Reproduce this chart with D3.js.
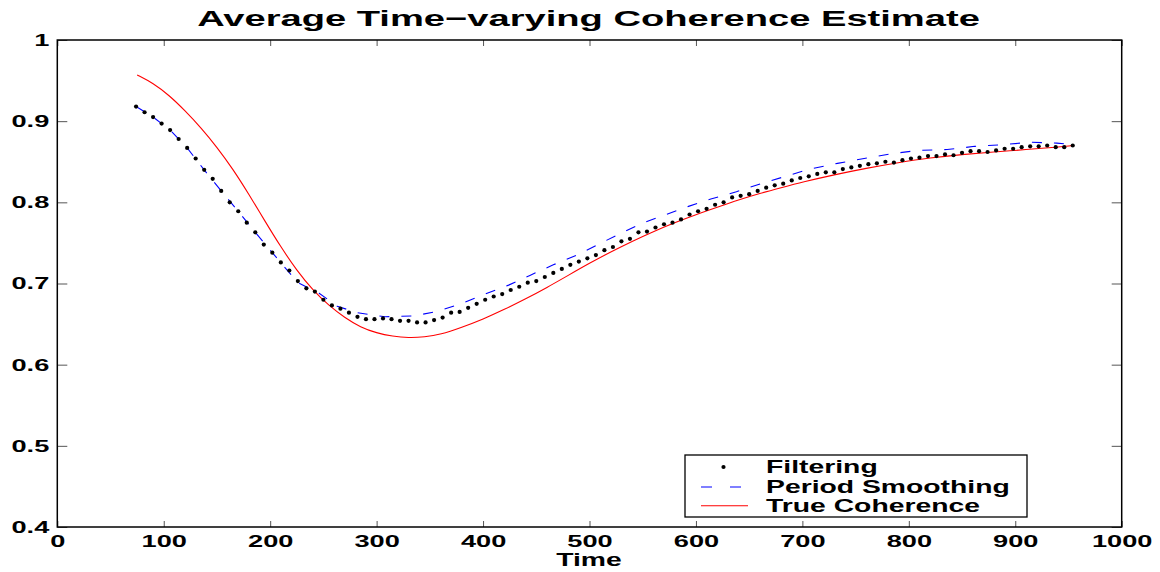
<!DOCTYPE html>
<html lang="en">
<head>
<meta charset="UTF-8">
<title>Average Time-varying Coherence Estimate</title>
<script src="https://d3js.org/d3.v7.min.js"></script>
<style>
    body { margin: 0; background: #fff; }
    text { font-family: "Liberation Sans", Arial, Helvetica, sans-serif; font-weight: bold; fill: #000; }
    .tick line { stroke: #555; stroke-width: 1px; }
    .domain { display: none; }
</style>
</head>
<body>
<svg width="1160" height="572"></svg>
<script>
// Filtering estimate, one value every 8 time units from 74 to 954
const filterTimes = d3.range(74, 955, 8);
const filterValues = [
    0.918, 0.911, 0.905, 0.897, 0.889, 0.878, 0.867, 0.854, 0.840, 0.829,
    0.814, 0.800, 0.789, 0.775, 0.763, 0.748, 0.738, 0.726, 0.716, 0.703,
    0.694, 0.690, 0.680, 0.673, 0.669, 0.664, 0.659, 0.656, 0.656, 0.657,
    0.656, 0.654, 0.654, 0.652, 0.652, 0.655, 0.658, 0.664, 0.665, 0.670,
    0.675, 0.680, 0.684,
    0.687, 0.692, 0.696, 0.701, 0.703, 0.708, 0.713, 0.718, 0.723, 0.727,
    0.731, 0.735, 0.741, 0.745, 0.752, 0.755, 0.763, 0.764, 0.769, 0.773,
    0.775, 0.779, 0.785, 0.789, 0.792, 0.797, 0.800, 0.806, 0.808, 0.810,
    0.814, 0.818, 0.821, 0.823, 0.827,
    0.830, 0.832, 0.835, 0.837, 0.837, 0.841, 0.843, 0.845, 0.847, 0.848,
    0.850, 0.849, 0.852, 0.854, 0.855, 0.857, 0.857, 0.859, 0.858, 0.861,
    0.863, 0.863, 0.862, 0.864, 0.866, 0.866, 0.868, 0.869, 0.869, 0.870,
    0.868, 0.868, 0.870
];

// Period smoothing estimate
const periodTimes = [74, 90, 106, 122, 138, 154, 170, 186, 202, 213, 226, 246, 263, 282, 308,
    335, 358, 381, 402, 424, 444, 466, 488, 508, 528, 549, 572, 593, 614, 638, 661, 684, 707,
    733, 758, 784, 809, 836, 862, 888, 914, 939, 954];
const periodValues = [0.918, 0.905, 0.889, 0.867, 0.840, 0.814, 0.789, 0.763, 0.738, 0.721,
    0.701, 0.688, 0.672, 0.664, 0.659, 0.660, 0.666, 0.676, 0.687, 0.698, 0.710, 0.723, 0.735,
    0.748, 0.761, 0.774, 0.785, 0.795, 0.804, 0.813, 0.823, 0.832, 0.841, 0.848, 0.854, 0.860,
    0.864, 0.865, 0.869, 0.871, 0.874, 0.873, 0.871];

// True coherence
const trueTimes = [75, 90, 105, 120, 135, 150, 165, 180, 195, 210, 225, 240, 255, 270, 285, 300,
    315, 330, 345, 360, 380, 400, 420, 440, 460, 480, 500, 520, 540, 560, 580, 600, 620, 640,
    660, 680, 700, 730, 760, 790, 820, 850, 880, 910, 940, 955];
const trueValues = [0.957, 0.947, 0.932, 0.913, 0.892, 0.868, 0.841, 0.810, 0.777, 0.745,
    0.716, 0.692, 0.673, 0.658, 0.646, 0.639, 0.635, 0.633, 0.634, 0.637, 0.646, 0.656, 0.668,
    0.681, 0.695, 0.710, 0.725, 0.739, 0.752, 0.764, 0.775, 0.785, 0.794, 0.803, 0.811, 0.818,
    0.825, 0.834, 0.842, 0.849, 0.855, 0.859, 0.862, 0.865, 0.868, 0.870];

const xTicks = [0, 100, 200, 300, 400, 500, 600, 700, 800, 900, 1000];
const yTicks = [0.4, 0.5, 0.6, 0.7, 0.8, 0.9, 1];
const legendLabels = ["Filtering", "Period Smoothing", "True Coherence"];

const svg = d3.select("svg");
const plotLeft = 57.3, plotRight = 1121.7, plotTop = 40, plotBottom = 527;
const sx = 1.6;   // glyphs in the picture are stretched sideways

const x = d3.scaleLinear().domain([0, 1000]).range([plotLeft, plotRight]);
const y = d3.scaleLinear().domain([0.4, 1]).range([plotBottom, plotTop]);

svg.append("rect")
   .attr("x", 0).attr("y", 0).attr("width", 1160).attr("height", 572)
   .attr("fill", "#fff");

// axes, ticks pointing inwards on all four sides
svg.append("g")
   .attr("transform", `translate(0,${plotBottom})`)
   .call(d3.axisBottom(x).tickValues(xTicks).tickFormat(d3.format("d"))
          .tickSizeInner(-6).tickSizeOuter(0).tickPadding(8))
   .call(g => g.selectAll("text")
       .attr("font-size", 17)
       .attr("transform", `scale(${sx},1)`));

svg.append("g")
   .attr("transform", `translate(0,${plotTop})`)
   .call(d3.axisTop(x).tickValues(xTicks).tickFormat("")
          .tickSizeInner(-6).tickSizeOuter(0));

svg.append("g")
   .attr("transform", `translate(${plotLeft},0)`)
   .call(d3.axisLeft(y).tickValues(yTicks).tickFormat(d => d === 1 ? "1" : d3.format(".1f")(d))
          .tickSizeInner(-10).tickSizeOuter(0).tickPadding(8))
   .call(g => g.selectAll("text")
       .attr("font-size", 17)
       .attr("x", -8 / sx)
       .attr("transform", `scale(${sx},1)`));

svg.append("g")
   .attr("transform", `translate(${plotRight},0)`)
   .call(d3.axisRight(y).tickValues(yTicks).tickFormat("")
          .tickSizeInner(-10).tickSizeOuter(0));

svg.selectAll("g text").attr("fill", "#000");

// frame
svg.append("rect")
   .attr("x", plotLeft).attr("y", plotTop)
   .attr("width", plotRight - plotLeft).attr("height", plotBottom - plotTop)
   .attr("fill", "none").attr("stroke", "#000").attr("stroke-width", 1.5);

// true coherence
const trueData = trueTimes.map((t, i) => [t, trueValues[i]]);
svg.append("path")
   .datum(trueData)
   .attr("fill", "none").attr("stroke", "#ff0000").attr("stroke-width", 1.1)
   .attr("d", d3.line().x(d => x(d[0])).y(d => y(d[1])).curve(d3.curveBasis));

// period smoothing
const periodData = periodTimes.map((t, i) => [t, periodValues[i]]);
svg.append("path")
   .datum(periodData)
   .attr("fill", "none").attr("stroke", "#0000ff").attr("stroke-width", 1.1)
   .attr("stroke-dasharray", "10,12")
   .attr("d", d3.line().x(d => x(d[0])).y(d => y(d[1])));

// filtering
const filterData = filterTimes.map((t, i) => [t, filterValues[i]]);
svg.append("g").selectAll("circle")
   .data(filterData)
   .enter().append("circle")
   .attr("cx", d => x(d[0]))
   .attr("cy", d => y(d[1]))
   .attr("r", 2.1)
   .attr("fill", "#000");

// title and x label
svg.append("text")
   .attr("transform", `translate(588.5,26) scale(1.71,1)`)
   .attr("text-anchor", "middle")
   .attr("font-size", 22.3)
   .text("Average Time\u2212varying Coherence Estimate");

svg.append("text")
   .attr("transform", `translate(589,566) scale(${sx},1)`)
   .attr("text-anchor", "middle")
   .attr("font-size", 17.7)
   .text("Time");

// legend
const legend = svg.append("g");
legend.append("rect")
   .attr("x", 685).attr("y", 455).attr("width", 342).attr("height", 62)
   .attr("fill", "#fff").attr("stroke", "#000").attr("stroke-width", 1.3);

const rowY = [467, 487, 505.7];
legendLabels.forEach((label, i) => {
    legend.append("text")
       .attr("transform", `translate(766,${rowY[i] + 6.4}) scale(${sx},1)`)
       .attr("font-size", 17.7)
       .text(label);
});
legend.append("circle")
   .attr("cx", 723.5).attr("cy", rowY[0]).attr("r", 2.1).attr("fill", "#000");
legend.append("line")
   .attr("x1", 701).attr("x2", 748).attr("y1", rowY[1]).attr("y2", rowY[1])
   .attr("stroke", "#0000ff").attr("stroke-width", 1.1).attr("stroke-dasharray", "11,18");
legend.append("line")
   .attr("x1", 701).attr("x2", 748).attr("y1", rowY[2]).attr("y2", rowY[2])
   .attr("stroke", "#ff0000").attr("stroke-width", 1.1);
</script>
</body>
</html>
